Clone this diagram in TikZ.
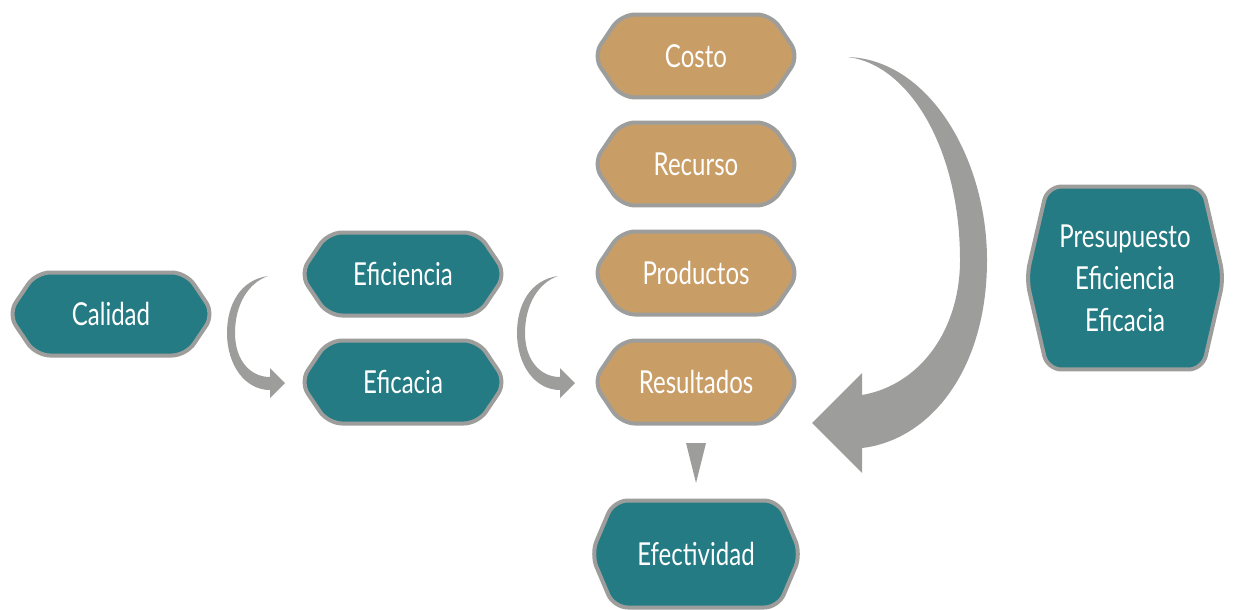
\documentclass[tikz,border=0pt]{standalone}
\usepackage{fontspec}
\setmainfont[FakeStretch=0.76]{Lato}
\usetikzlibrary{shapes.symbols, positioning}
\definecolor{tealc}{HTML}{247B84}
\definecolor{tanc}{HTML}{C99D66}
\definecolor{grayc}{HTML}{9D9D9C}
\tikzset{hex node/.style={shape=signal, signal to=west and east, signal pointer angle=112,
    draw=grayc, line width=0.08cm, rounded corners=0.28cm, text=white, align=center,
    minimum width=4.12cm, minimum height=1.66cm, inner sep=0pt,
    font=\fontsize{18}{24}\selectfont},
  teal node/.style={hex node, fill=tealc},
  tan node/.style={hex node, fill=tanc},}

\begin{document}
\begin{tikzpicture}[x=0.02cm, y=-0.02cm]
   \useasboundingbox (0,0) rectangle (1236,609);
   \node[teal node] (cal) at (111,314) {Calidad};
   \node[teal node] (efi) at (403,274) {Eficiencia};
   \node[teal node] (efa) at (403,382) {Eficacia};
   \node[tan node] (cos) at (696,56) {Costo};
   \node[tan node] (rec) at (696,164) {Recurso};
   \node[tan node] (pro) at (696,273) {Productos};
   \node[tan node] (res) at (696,382) {Resultados};
   \node[teal node, minimum height=2.14cm, minimum width=4.2cm,
      signal pointer angle=134] (efe) at (696,554) {Efectividad};
   \node[teal node, minimum height=3.66cm, minimum width=3.95cm,
      signal pointer angle=154] (pre) at (1125,278) {Presupuesto\\Eficiencia\\Eficacia};
   % curved arrows
   \foreach \dx in {0,290}{
   \fill[grayc, xshift=\dx*0.02cm] (268,276) .. controls (240,280) and (227,305) .. (227,333)
      .. controls (227,365) and (245,390) .. (270,390) -- (270,398) -- (285,383)
      -- (270,368) -- (270,377) .. controls (250,377) and (235,360) .. (235,333)
      .. controls (235,305) and (248,283) .. (268,276) -- cycle;
   }
   \fill[grayc] (848,57) .. controls (930,60) and (987,160) .. (987,260)
      .. controls (987,370) and (930,440) .. (862,448) -- (862,473) -- (812,423)
      -- (862,373) -- (862,395) .. controls (920,385) and (960,330) .. (960,260)
      .. controls (960,150) and (910,65) .. (848,57) -- cycle;
   \fill[grayc] (686,443) -- (706,443) -- (696,483) -- cycle;
\end{tikzpicture}
\end{document}
